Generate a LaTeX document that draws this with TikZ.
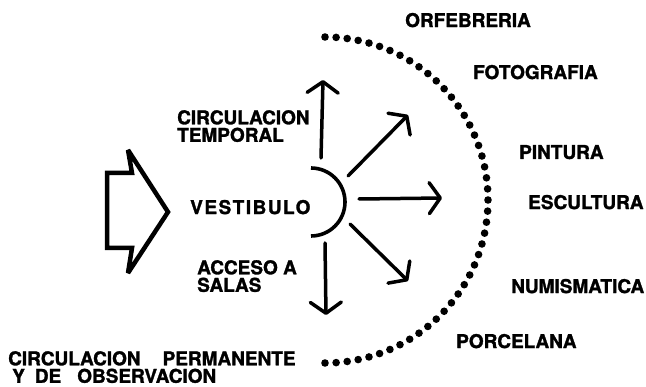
\documentclass[tikz,border=0pt]{standalone}
\usepackage{fontspec}
\setmainfont{TeX Gyre Heros}[BoldFeatures={FakeBold=1.5}]
\usetikzlibrary{arrows.meta}
\begin{document}
\begin{tikzpicture}[x=1pt,y=1pt,
  lbl/.style={inner sep=0pt, font=\fontsize{19}{17.5}\selectfont\bfseries, text depth=0pt},
  ray/.style={line width=3.5pt, line cap=round, -{Straight Barb[length=11pt,width=31pt,line width=3.5pt,round]}},
  dotc/.style={fill=black}]
\useasboundingbox (0,0) rectangle (646,-387);
% entrance arrow
\draw[line width=4.5pt, miter limit=4] (107,-173) -- (132,-173) -- (128,-150) -- (168,-212) -- (128,-273) -- (132,-248) -- (107,-248) -- cycle;
% vestibule arc
\coordinate (vc) at (311,-202);
\draw[line width=3.6pt] (311,-168) arc[start angle=90, end angle=-90, radius=34];
\node[lbl, anchor=west] (vest) at (190,-207) {\addfontfeature{LetterSpace=8}VESTIBULO};
% rays
\coordinate (s1) at (321,-158); \coordinate (e1) at (323,-80);
\coordinate (s2) at (348,-176); \coordinate (e2) at (408,-115);
\coordinate (s3) at (359,-199); \coordinate (e3) at (442,-198);
\coordinate (s4) at (350,-224); \coordinate (e4) at (408,-281);
\coordinate (s5) at (325,-243); \coordinate (e5) at (326,-315);
\draw[ray] (s1) -- (e1);
\draw[ray] (s2) -- (e2);
\draw[ray] (s3) -- (e3);
\draw[ray] (s4) -- (e4);
\draw[ray] (s5) -- (e5);
% dotted semicircle
\foreach \i in {0,...,46}{
  \fill[dotc] ({325+163*cos(90-\i*180/46)}, {-200+163*sin(90-\i*180/46)}) circle (3.8);
}
% labels
\node[lbl, anchor=north west, align=left] (ct) at (177,-110) {CIRCULACION\\TEMPORAL};
\node[lbl, anchor=north west, align=left] (as) at (197,-260) {ACCESO A\\SALAS};
\node[lbl, anchor=north west, align=left] (cp) at (8,-351) {CIRCULACION\hspace{22pt}PERMANENTE\\\hspace{4pt}Y\hspace{10pt}DE\hspace{16pt}OBSERVACION};
\node[lbl, anchor=west] (orf) at (405,-20) {ORFEBRERIA};
\node[lbl, anchor=west] (fot) at (473,-72) {FOTOGRAFIA};
\node[lbl, anchor=west] (pin) at (519,-152) {PINTURA};
\node[lbl, anchor=west] (esc) at (528,-202) {ESCULTURA};
\node[lbl, anchor=west] (num) at (511,-286) {NUMISMATICA};
\node[lbl, anchor=west] (por) at (456,-341) {PORCELANA};
\end{tikzpicture}
\end{document}
